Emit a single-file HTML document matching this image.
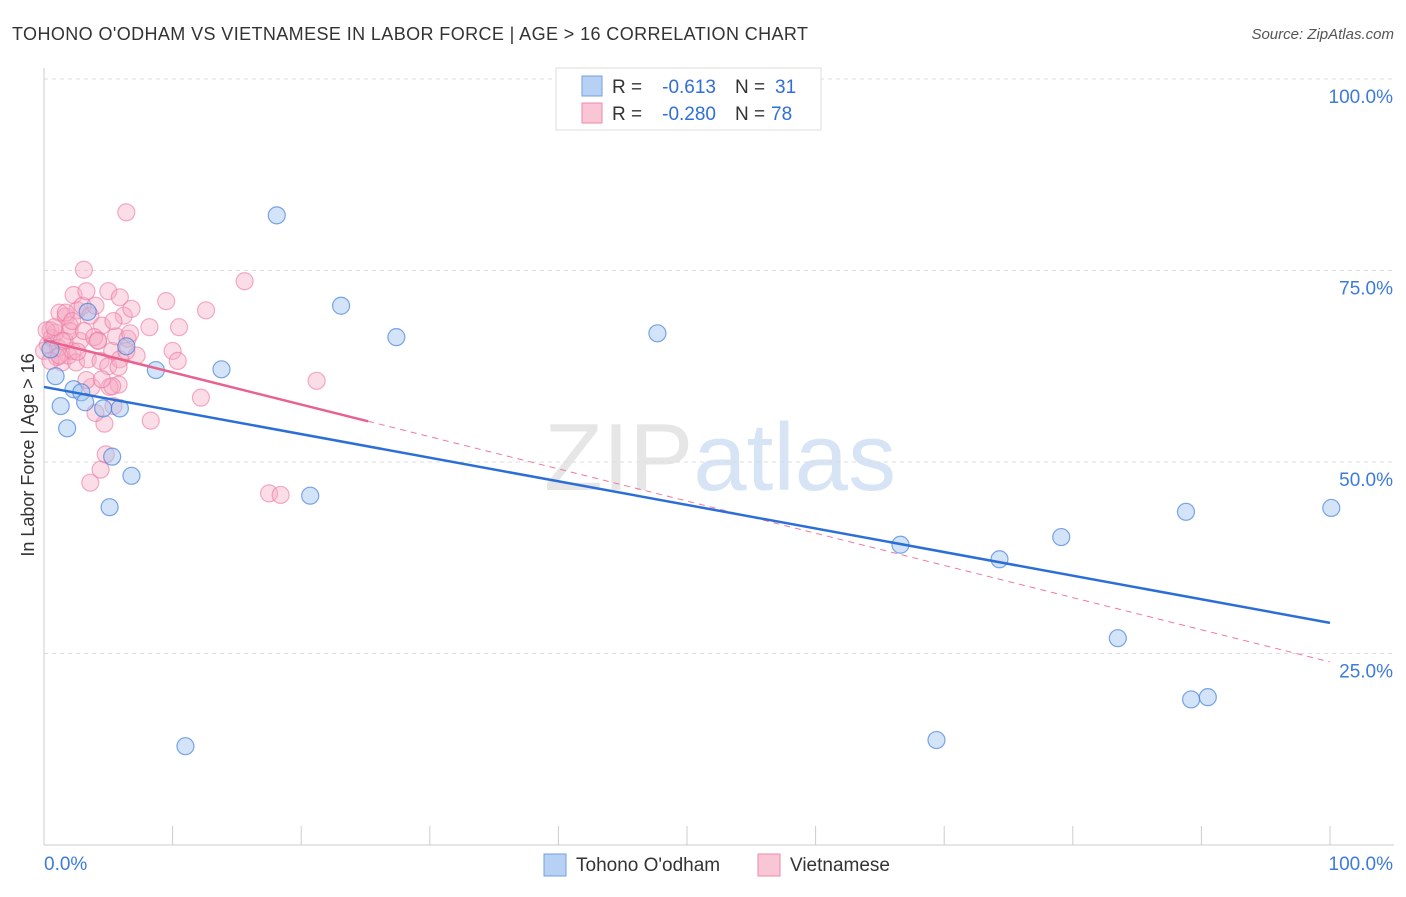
<!DOCTYPE html>
<html><head><meta charset="utf-8"><style>
body{margin:0;background:#fff;font-family:"Liberation Sans",sans-serif}
svg text{font-family:"Liberation Sans",sans-serif}
</style></head><body>
<svg id="chart" width="1406" height="892">
<text x="12" y="40" font-size="18" fill="#333" textLength="796" lengthAdjust="spacing">TOHONO O'ODHAM VS VIETNAMESE IN LABOR FORCE | AGE &gt; 16 CORRELATION CHART</text>
<text x="1394" y="39" font-size="15" fill="#555" font-style="italic" text-anchor="end">Source: ZipAtlas.com</text>
<text x="720" y="490" font-size="96" fill="#e6e6e6" text-anchor="middle" font-family="Liberation Serif">ZIP<tspan fill="#d6e4f5" font-family="Liberation Sans">atlas</tspan></text>
<g id="grid"></g><g id="marks"></g>
<text transform="translate(34,455) rotate(-90)" font-size="18" fill="#333" text-anchor="middle">In Labor Force | Age &gt; 16</text>
<g>
<rect x="556" y="68" width="265" height="62" fill="#fff" stroke="#ddd"/>
<rect x="582" y="76" width="20" height="20" fill="#b7d1f5" stroke="#6fa0e0"/>
<text x="612" y="93" font-size="19" fill="#333">R =</text>
<text x="716" y="93" font-size="19" fill="#2f6fd6" text-anchor="end">-0.613</text>
<text x="735" y="93" font-size="19" fill="#333">N =</text>
<text x="775" y="93" font-size="19" fill="#2f6fd6">31</text>
<rect x="582" y="103" width="20" height="20" fill="#f9c6d6" stroke="#ec8aaa"/>
<text x="612" y="120" font-size="19" fill="#333">R =</text>
<text x="716" y="120" font-size="19" fill="#2f6fd6" text-anchor="end">-0.280</text>
<text x="735" y="120" font-size="19" fill="#333">N =</text>
<text x="771" y="120" font-size="19" fill="#2f6fd6">78</text>
</g>
<g>
<rect x="544" y="854" width="22" height="22" fill="#b7d1f5" stroke="#6fa0e0"/>
<text x="576" y="871" font-size="19" fill="#333">Tohono O'odham</text>
<rect x="758" y="854" width="22" height="22" fill="#f9c6d6" stroke="#ec8aaa"/>
<text x="790" y="871" font-size="19" fill="#333">Vietnamese</text>
</g>
</svg>
<script>
const yTicks=[100,75,50,25];
const blueX=[18.1,23.1,27.4,47.7,0.9,1.3,1.8,2.3,2.9,3.2,4.6,5.9,6.4,8.7,13.8,5.3,6.8,5.1,20.7,11.0,66.6,74.3,79.1,83.5,88.8,100.1,89.2,90.5,69.4,0.5,3.4];
const blueY=[82.2,70.4,66.3,66.8,61.2,57.3,54.4,59.5,59.1,57.8,57.0,57.0,65.1,62.0,62.1,50.7,48.2,44.1,45.6,12.9,39.2,37.3,40.2,27.0,43.5,44.0,19.0,19.3,13.7,64.7,69.6];
const pinkX=[6.4,15.6,3.1,0.5,0.3,0.6,0.9,1.2,1.7,2.0,2.3,2.6,3.0,3.3,3.6,4.0,4.2,4.5,5.0,5.3,5.6,5.9,6.2,6.5,6.8,7.2,8.2,9.5,10.0,10.4,10.5,12.6,12.2,8.3,21.2,17.5,18.4,3.6,4.4,4.8,4.7,5.4,5.8,5.1,3.7,3.3,4.0,1.4,1.9,2.2,2.5,2.8,3.4,4.4,5.0,5.3,5.9,6.4,6.7,1.6,2.0,0.2,0.8,1.1,1.4,1.7,2.2,2.6,3.1,3.9,4.2,5.4,5.8,4.5,1.0,0.0,0.5,1.2];
const pinkY=[82.6,73.6,75.1,67.2,65.3,66.2,66.9,69.5,69.0,67.8,71.8,69.8,70.4,72.3,69.1,70.4,65.9,67.8,72.3,64.5,66.4,71.5,69.1,66.1,70.0,63.9,67.6,71.0,64.5,63.2,67.6,69.8,58.4,55.4,60.6,45.9,45.7,47.3,49.0,51.0,55.0,57.3,60.1,59.8,59.8,60.7,56.4,63.0,63.9,64.5,63.0,65.8,63.4,63.2,62.5,59.9,63.4,64.5,66.8,65.8,67.1,67.2,67.6,64.9,65.8,69.5,68.4,64.4,67.1,66.3,65.8,68.4,62.4,60.8,63.7,64.5,63.2,63.9];
const blueTrend=[59.8,29.0], pinkTrend=[65.9,23.9], pinkSolidEnd=25.2;
const X=v=>44+v*12.86, Y=v=>79+(100-v)*7.66;
const NS='http://www.w3.org/2000/svg';
const grid=document.getElementById('grid'), marks=document.getElementById('marks');
function mk(tag,at,par){const e=document.createElementNS(NS,tag);for(const k in at)e.setAttribute(k,at[k]);par.appendChild(e);return e;}
yTicks.forEach(t=>{
 const l=mk('line',{x1:44,x2:1394,y1:Y(t),y2:Y(t),stroke:'#ddd','stroke-dasharray':'4,4'},grid);
 
 
 const tx=mk('text',{x:1393,y:Y(t)+24,'font-size':19,fill:'#3d7bd9','text-anchor':'end'},grid);
 tx.textContent=t.toFixed(1)+'%';
 
 
});
mk('line',{x1:44,x2:44,y1:68,y2:845,stroke:'#ccc'},grid);
mk('line',{x1:44,x2:1394,y1:845,y2:845,stroke:'#ccc'},grid);
for(let i=0;i<=10;i++){mk('line',{x1:X(i*10),x2:X(i*10),y1:826,y2:845,stroke:'#ccc'},grid);}
let t0=mk('text',{x:44,y:870,'font-size':19,fill:'#3d7bd9'},grid);t0.textContent='0.0%';


let t1=mk('text',{x:1393,y:870,'font-size':19,fill:'#3d7bd9','text-anchor':'end'},grid);t1.textContent='100.0%';


pinkX.forEach((x,i)=>{const c=mk('circle',{cx:X(x),cy:Y(pinkY[i]),r:8.5,fill:'rgba(246,170,195,0.4)',stroke:'rgba(236,120,160,0.6)','stroke-width':1.2},marks);
 
 });
blueX.forEach((x,i)=>{const c=mk('circle',{cx:X(x),cy:Y(blueY[i]),r:8.5,fill:'rgba(160,195,240,0.45)',stroke:'rgba(70,130,220,0.7)','stroke-width':1.2},marks);
 
 });
const pt=v=>pinkTrend[0]+(pinkTrend[1]-pinkTrend[0])*v/100;
let pd=mk('line',{x1:X(pinkSolidEnd),y1:Y(pt(pinkSolidEnd)),x2:X(100),y2:Y(pinkTrend[1]),stroke:'#ec7aa0','stroke-width':1,'stroke-dasharray':'6,5'},marks);


let ps=mk('line',{x1:X(0),y1:Y(pinkTrend[0]),x2:X(pinkSolidEnd),y2:Y(pt(pinkSolidEnd)),stroke:'#e8628e','stroke-width':2.5},marks);


let bl=mk('line',{x1:X(0),y1:Y(blueTrend[0]),x2:X(100),y2:Y(blueTrend[1]),stroke:'#2b6fd6','stroke-width':2.5},marks);


</script>
</body></html>
